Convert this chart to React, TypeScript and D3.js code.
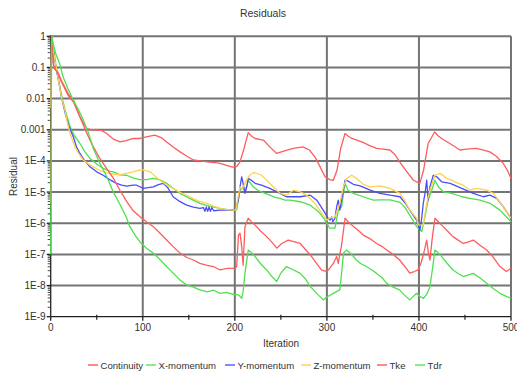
import React from "react";
import * as d3 from "d3";

// Data: [iteration, log10(residual)]
const continuity: [number, number][] = [[0,0],[1,0],[3,-0.9],[4,-1.03],[7,-1.1],[11.5,-1.41],[19,-1.84],[24.6,-2.05],[31.8,-2.59],[39,-2.96],[45,-3.0],[50,-3.01],[55,-3.02],[60.8,-3.12],[68,-3.3],[75.3,-3.39],[82,-3.35],[89.7,-3.28],[97,-3.28],[104,-3.23],[113,-3.17],[120,-3.25],[126,-3.39],[133,-3.55],[140.5,-3.71],[148,-3.85],[155,-3.97],[162,-4.0],[170,-4.03],[177,-4.05],[184,-4.08],[191,-4.14],[198,-4.2],[202,-4.18],[205.6,-4.03],[210,-3.6],[214.6,-3.09],[218,-3.2],[222,-3.28],[231,-3.33],[238,-3.55],[245.5,-3.76],[254,-3.68],[263.5,-3.6],[274,-3.55],[281,-3.65],[287,-3.87],[292,-4.15],[298,-4.51],[303,-4.6],[307,-4.62],[311,-4.3],[315,-3.6],[319.7,-3.12],[323,-3.2],[327,-3.28],[338,-3.39],[346,-3.5],[354,-3.6],[361,-3.62],[368.6,-3.65],[374,-3.8],[379,-4.03],[387,-4.35],[394,-4.62],[401,-4.72],[405,-4.3],[410,-3.44],[417,-3.07],[421,-3.2],[424.7,-3.28],[434,-3.45],[444.6,-3.65],[452,-3.62],[462.7,-3.6],[470,-3.65],[477,-3.71],[484,-3.85],[491.6,-4.08],[496,-4.3],[500,-4.56]];

const xMomentum: [number, number][] = [[0,-2.3],[1,0],[3,-0.3],[5,-0.8],[8,-1.3],[10.5,-1.7],[13,-2.05],[17,-2.5],[21,-2.9],[26,-3.2],[31.8,-3.44],[37,-3.7],[42.7,-3.92],[50,-4.1],[57,-4.24],[64,-4.33],[68,-4.35],[75,-4.45],[82.5,-4.46],[90,-4.55],[97,-4.6],[104,-4.6],[111.5,-4.56],[118,-4.6],[126,-4.72],[133,-4.88],[140.5,-5.04],[151,-5.2],[162,-5.36],[172,-5.45],[184,-5.52],[192,-5.56],[198,-5.58],[202,-5.58],[205.6,-4.94],[209,-4.83],[211,-4.99],[214.6,-4.62],[220,-4.83],[225.5,-4.95],[232.8,-5.04],[238,-5.1],[243.6,-5.17],[249,-5.2],[254.5,-5.26],[260,-5.26],[271,-5.31],[282,-5.42],[291,-5.63],[298,-5.9],[303,-6.16],[308.8,-6.16],[312.4,-5.58],[316,-5.47],[319.7,-4.72],[323,-4.94],[328.7,-5.04],[339.6,-5.15],[350.4,-5.26],[357.7,-5.25],[368.6,-5.25],[379.4,-5.33],[385,-5.5],[390,-5.74],[397.5,-6.11],[403,-6.27],[406.6,-5.79],[410,-5.26],[413.9,-4.94],[417.4,-4.62],[421,-4.83],[426.5,-4.99],[435.6,-5.04],[446.5,-5.15],[455.5,-5.2],[466.4,-5.26],[477.3,-5.36],[488,-5.58],[495,-5.8],[500,-5.95]];

const yMomentum: [number, number][] = [[0,-2.3],[1,0],[3,-0.5],[6,-1.05],[9,-1.5],[12,-2.0],[16,-2.5],[20,-2.9],[24.6,-3.23],[28,-3.55],[31.8,-3.76],[37,-4.0],[42.7,-4.19],[50,-4.35],[57,-4.46],[64,-4.6],[71.6,-4.72],[77,-4.78],[82.5,-4.81],[89.7,-4.78],[93.4,-4.78],[100.6,-4.88],[106,-4.86],[111.5,-4.83],[117,-4.76],[122.3,-4.72],[127,-4.85],[133,-5.15],[140,-5.3],[147.7,-5.42],[155,-5.48],[162,-5.52],[166,-5.5],[167.5,-5.62],[169,-5.48],[170.5,-5.62],[172,-5.48],[173.5,-5.62],[175,-5.5],[177,-5.6],[184,-5.58],[190,-5.58],[196,-5.58],[200,-5.58],[203.8,-5.26],[205.6,-4.83],[207.5,-4.51],[209,-4.72],[211,-5.04],[213,-4.83],[214.6,-4.56],[218,-4.62],[222,-4.72],[229,-4.78],[238,-4.88],[249,-5.04],[256,-5.15],[271,-5.15],[282,-5.1],[289,-5.26],[296,-5.58],[301.6,-5.85],[303.4,-5.9],[305,-5.8],[306.5,-5.95],[308.8,-5.84],[310.6,-5.47],[312.4,-5.26],[314,-5.58],[316,-5.26],[319.7,-4.62],[323,-4.65],[328.7,-4.75],[336,-4.8],[347,-4.94],[357.7,-5.04],[368.6,-5.1],[379.4,-5.15],[385,-5.35],[390,-5.58],[397.5,-5.9],[401,-6.22],[403,-5.84],[404.7,-5.36],[406.6,-5.04],[408.4,-4.62],[410,-5.26],[412,-4.83],[415.6,-4.46],[419.3,-4.51],[424.7,-4.67],[434,-4.72],[446.5,-4.88],[459,-5.04],[470,-5.15],[477,-5.1],[484.5,-5.2],[491.6,-5.47],[500,-5.84]];

const zMomentum: [number, number][] = [[0,-2.3],[1,0],[3,-0.5],[6,-1.0],[9,-1.5],[12,-2.0],[15.5,-2.37],[18,-2.75],[21,-3.12],[26.4,-3.55],[30,-3.75],[35.4,-3.97],[41,-4.1],[46.3,-4.19],[53,-4.3],[60.8,-4.38],[68,-4.42],[75.3,-4.44],[82,-4.4],[89.7,-4.35],[95,-4.3],[100.6,-4.29],[104,-4.32],[108,-4.35],[113,-4.48],[118.7,-4.62],[126,-4.78],[133,-4.88],[142,-5.03],[151,-5.15],[160,-5.28],[169.5,-5.36],[177,-5.45],[184,-5.52],[191,-5.56],[198,-5.58],[201,-5.58],[205.6,-4.83],[208,-4.9],[211,-4.72],[213,-4.6],[216.5,-4.45],[220,-4.38],[222,-4.38],[229,-4.46],[234,-4.6],[240,-4.78],[249,-5.04],[256,-5.1],[263.5,-4.94],[271,-4.99],[278,-5.1],[287,-5.36],[296,-5.74],[300,-5.9],[303,-5.84],[309,-5.79],[314,-5.36],[318,-4.83],[321.5,-4.56],[327,-4.46],[332,-4.56],[339.6,-4.75],[347,-4.83],[357.7,-4.8],[368.6,-4.88],[379.4,-5.04],[385,-5.3],[390,-5.58],[397.5,-5.84],[399.3,-6.05],[404.7,-6.06],[408.4,-5.36],[412,-4.94],[417.4,-4.46],[422.9,-4.4],[430,-4.56],[434,-4.6],[442.8,-4.72],[448,-4.78],[455.5,-4.94],[462.7,-4.88],[473.6,-4.94],[480.8,-5.04],[491.6,-5.47],[500,-5.84]];

const tke: [number, number][] = [[0,-5.35],[1,0],[3,-0.9],[4,-1.03],[7,-1.15],[11.5,-1.45],[19,-1.9],[24.6,-2.1],[31.8,-2.59],[39,-3.1],[46.3,-3.55],[53,-3.9],[60.8,-4.25],[68,-4.55],[75.3,-4.95],[82.5,-5.3],[89.7,-5.6],[97,-5.79],[104,-5.95],[111.5,-6.11],[118,-6.3],[126,-6.54],[133,-6.75],[140.5,-6.96],[148,-7.1],[155,-7.18],[162,-7.29],[170,-7.35],[176.6,-7.39],[184,-7.5],[192,-7.45],[198,-7.45],[202,-7.4],[204,-6.38],[205.6,-6.32],[207.5,-6.75],[209,-7.34],[211,-6.11],[214.6,-5.84],[218,-5.95],[222,-6.06],[228,-6.25],[234.6,-6.43],[240,-6.6],[245.5,-6.8],[251,-6.65],[258,-6.54],[265,-6.6],[271,-6.65],[277,-6.85],[283.5,-7.07],[289,-7.3],[294,-7.5],[300,-7.55],[303,-7.45],[307,-7.29],[310.6,-7.07],[312.4,-7.29],[314,-7.0],[316,-6.7],[319.7,-5.84],[323,-5.95],[327,-6.06],[333,-6.2],[339.6,-6.38],[347,-6.5],[354,-6.65],[360,-6.75],[365,-6.86],[372,-7.0],[379,-7.18],[385,-7.4],[390,-7.6],[395,-7.55],[399,-7.5],[402,-7.3],[404.7,-7.02],[406.5,-6.8],[408.4,-6.54],[410,-6.9],[412,-7.18],[414,-6.6],[415.6,-6.22],[417.4,-5.84],[421,-5.95],[424.7,-6.06],[431,-6.25],[437,-6.43],[443,-6.55],[448,-6.65],[454,-6.6],[459,-6.54],[466,-6.7],[473.6,-6.86],[481,-7.1],[488,-7.39],[495,-7.55],[500,-7.45]];

const tdr: [number, number][] = [[0,-7],[1,0],[3,-0.3],[6,-0.6],[9.7,-0.87],[13.4,-1.3],[19,-1.7],[24.6,-2.05],[30,-2.35],[35.4,-2.69],[41,-3.1],[46.3,-3.6],[53,-4.05],[60.8,-4.5],[68,-5.0],[75.3,-5.4],[82,-5.8],[86,-6.11],[92,-6.4],[97,-6.6],[104,-6.8],[111.5,-6.96],[118,-7.15],[126,-7.39],[133,-7.6],[140.5,-7.82],[147.7,-7.98],[155,-8.05],[162,-8.14],[170,-8.2],[177,-8.15],[184,-8.25],[191,-8.22],[198,-8.28],[204,-8.3],[207.5,-8.41],[209,-8.2],[211,-7.61],[214.6,-6.86],[218,-6.95],[222,-7.07],[228,-7.3],[234.6,-7.5],[240,-7.7],[245.5,-7.87],[250,-7.6],[256,-7.39],[264,-7.5],[271,-7.61],[277,-7.8],[282,-8.03],[289,-8.25],[296,-8.46],[301,-8.35],[307,-8.25],[314,-8.14],[316,-7.6],[318,-6.96],[321.5,-6.86],[327,-7.0],[332,-7.18],[337,-7.3],[343,-7.39],[349,-7.5],[354,-7.61],[360,-7.75],[365,-7.93],[372,-8.05],[379,-8.14],[384,-8.3],[390,-8.46],[397.5,-8.25],[401,-8.35],[405,-8.41],[409,-8.25],[412,-8.03],[415,-7.4],[417.4,-6.86],[421,-6.95],[424.7,-7.07],[431,-7.3],[437,-7.5],[443,-7.62],[448,-7.71],[454,-7.66],[459,-7.61],[466,-7.75],[473.6,-7.93],[481,-8.1],[488,-8.25],[495,-8.35],[500,-8.41]];

const seriesNames = ["Continuity", "X-momentum", "Y-momentum", "Z-momentum", "Tke", "Tdr"];
const seriesData = [continuity, xMomentum, yMomentum, zMomentum, tke, tdr];
const seriesColors = ["#ff5c5c", "#4fe04f", "#4c4cff", "#ffd24d", "#ff5c5c", "#4fe04f"];
const legendColors = ["#ff8888", "#88ee88", "#8888ff", "#ffdd88", "#ff8888", "#88ee88"];

const xTicks = [0, 100, 200, 300, 400, 500];
const xMinorTicks = [50, 150, 250, 350, 450];
const yTickExps = [0, -1, -2, -3, -4, -5, -6, -7, -8, -9];
const yTickLabels = ["1", "0.1", "0.01", "0.001", "1E-4", "1E-5", "1E-6", "1E-7", "1E-8", "1E-9"];

const W = 517, H = 376;
const L = 50.7, R = 511, T = 36.3, B = 316.7;
const legendX = [88, 146, 225, 301, 377, 415];

export default function App() {
  const x = d3.scaleLinear().domain([0, 500]).range([L, R]);
  const y = d3.scaleLog().domain([1e-9, 1]).range([B, T]);
  const line = d3.line<[number, number]>().x(d => x(d[0])).y(d => y(Math.pow(10, d[1])));
  const minor: number[] = [];
  for (let e = -9; e < 0; e++) for (let k = 2; k <= 9; k++) minor.push(k * Math.pow(10, e));
  const font = "'Liberation Sans', Arial, sans-serif";
  return (
    <svg width={W} height={H} style={{ position: "absolute", left: 0, top: 0, background: "#fff" }} fontFamily={font}>
      <rect width={W} height={H} fill="#fff" />
      <text x={263} y={17} fontSize={10.5} textAnchor="middle" fill="#333">Residuals</text>
      {/* grid */}
      {yTickExps.slice(0, 9).map(e => (
        <line key={"gy" + e} x1={L} x2={R} y1={y(Math.pow(10, e))} y2={y(Math.pow(10, e))} stroke="#747474" strokeWidth={2} />
      ))}
      {xTicks.slice(1).map(t => (
        <line key={"gx" + t} x1={x(t)} x2={x(t)} y1={T} y2={B} stroke="#747474" strokeWidth={2} />
      ))}
      {/* axes */}
      <line x1={L} x2={R} y1={B} y2={B} stroke="#222" strokeWidth={1.3} />
      <line x1={L} x2={L} y1={T - 1} y2={B} stroke="#222" strokeWidth={1.3} />
      {xTicks.map(t => (
        <line key={"xt" + t} x1={x(t)} x2={x(t)} y1={B} y2={B + 4} stroke="#222" strokeWidth={1.3} />
      ))}
      {xMinorTicks.map(t => (
        <line key={"xm" + t} x1={x(t)} x2={x(t)} y1={B - 2} y2={B + 3} stroke="#222" strokeWidth={1.2} />
      ))}
      {yTickExps.map(e => (
        <line key={"yt" + e} x1={L - 4} x2={L} y1={y(Math.pow(10, e))} y2={y(Math.pow(10, e))} stroke="#222" strokeWidth={1.3} />
      ))}
      {minor.map((v, i) => (
        <line key={"ym" + i} x1={L - 3} x2={L} y1={y(v)} y2={y(v)} stroke="#333" strokeWidth={0.9} />
      ))}
      {yTickExps.map((e, i) => (
        <text key={"yl" + e} x={L - 5} y={y(Math.pow(10, e)) + 3.5} fontSize={10} textAnchor="end" fill="#333">{yTickLabels[i]}</text>
      ))}
      {xTicks.map(t => (
        <text key={"xl" + t} x={x(t)} y={331} fontSize={10} textAnchor="middle" fill="#333">{t}</text>
      ))}
      <text x={281} y={347} fontSize={10} textAnchor="middle" fill="#333">Iteration</text>
      <text transform={`translate(17,${(T + B) / 2}) rotate(-90)`} fontSize={10} textAnchor="middle" fill="#333">Residual</text>
      {/* series */}
      <g fill="none" strokeWidth={1.3} strokeLinejoin="round">
        {seriesData.map((s, i) => (
          <path key={seriesNames[i]} d={line(s) || ""} stroke={seriesColors[i]} />
        ))}
      </g>
      {/* legend */}
      {seriesNames.map((n, i) => (
        <g key={"lg" + n}>
          <line x1={legendX[i]} x2={legendX[i] + 10} y1={365} y2={365} stroke={legendColors[i]} strokeWidth={2} />
          <text x={legendX[i] + 12.5} y={368.5} fontSize={9.6} fill="#333">{n}</text>
        </g>
      ))}
    </svg>
  );
}
